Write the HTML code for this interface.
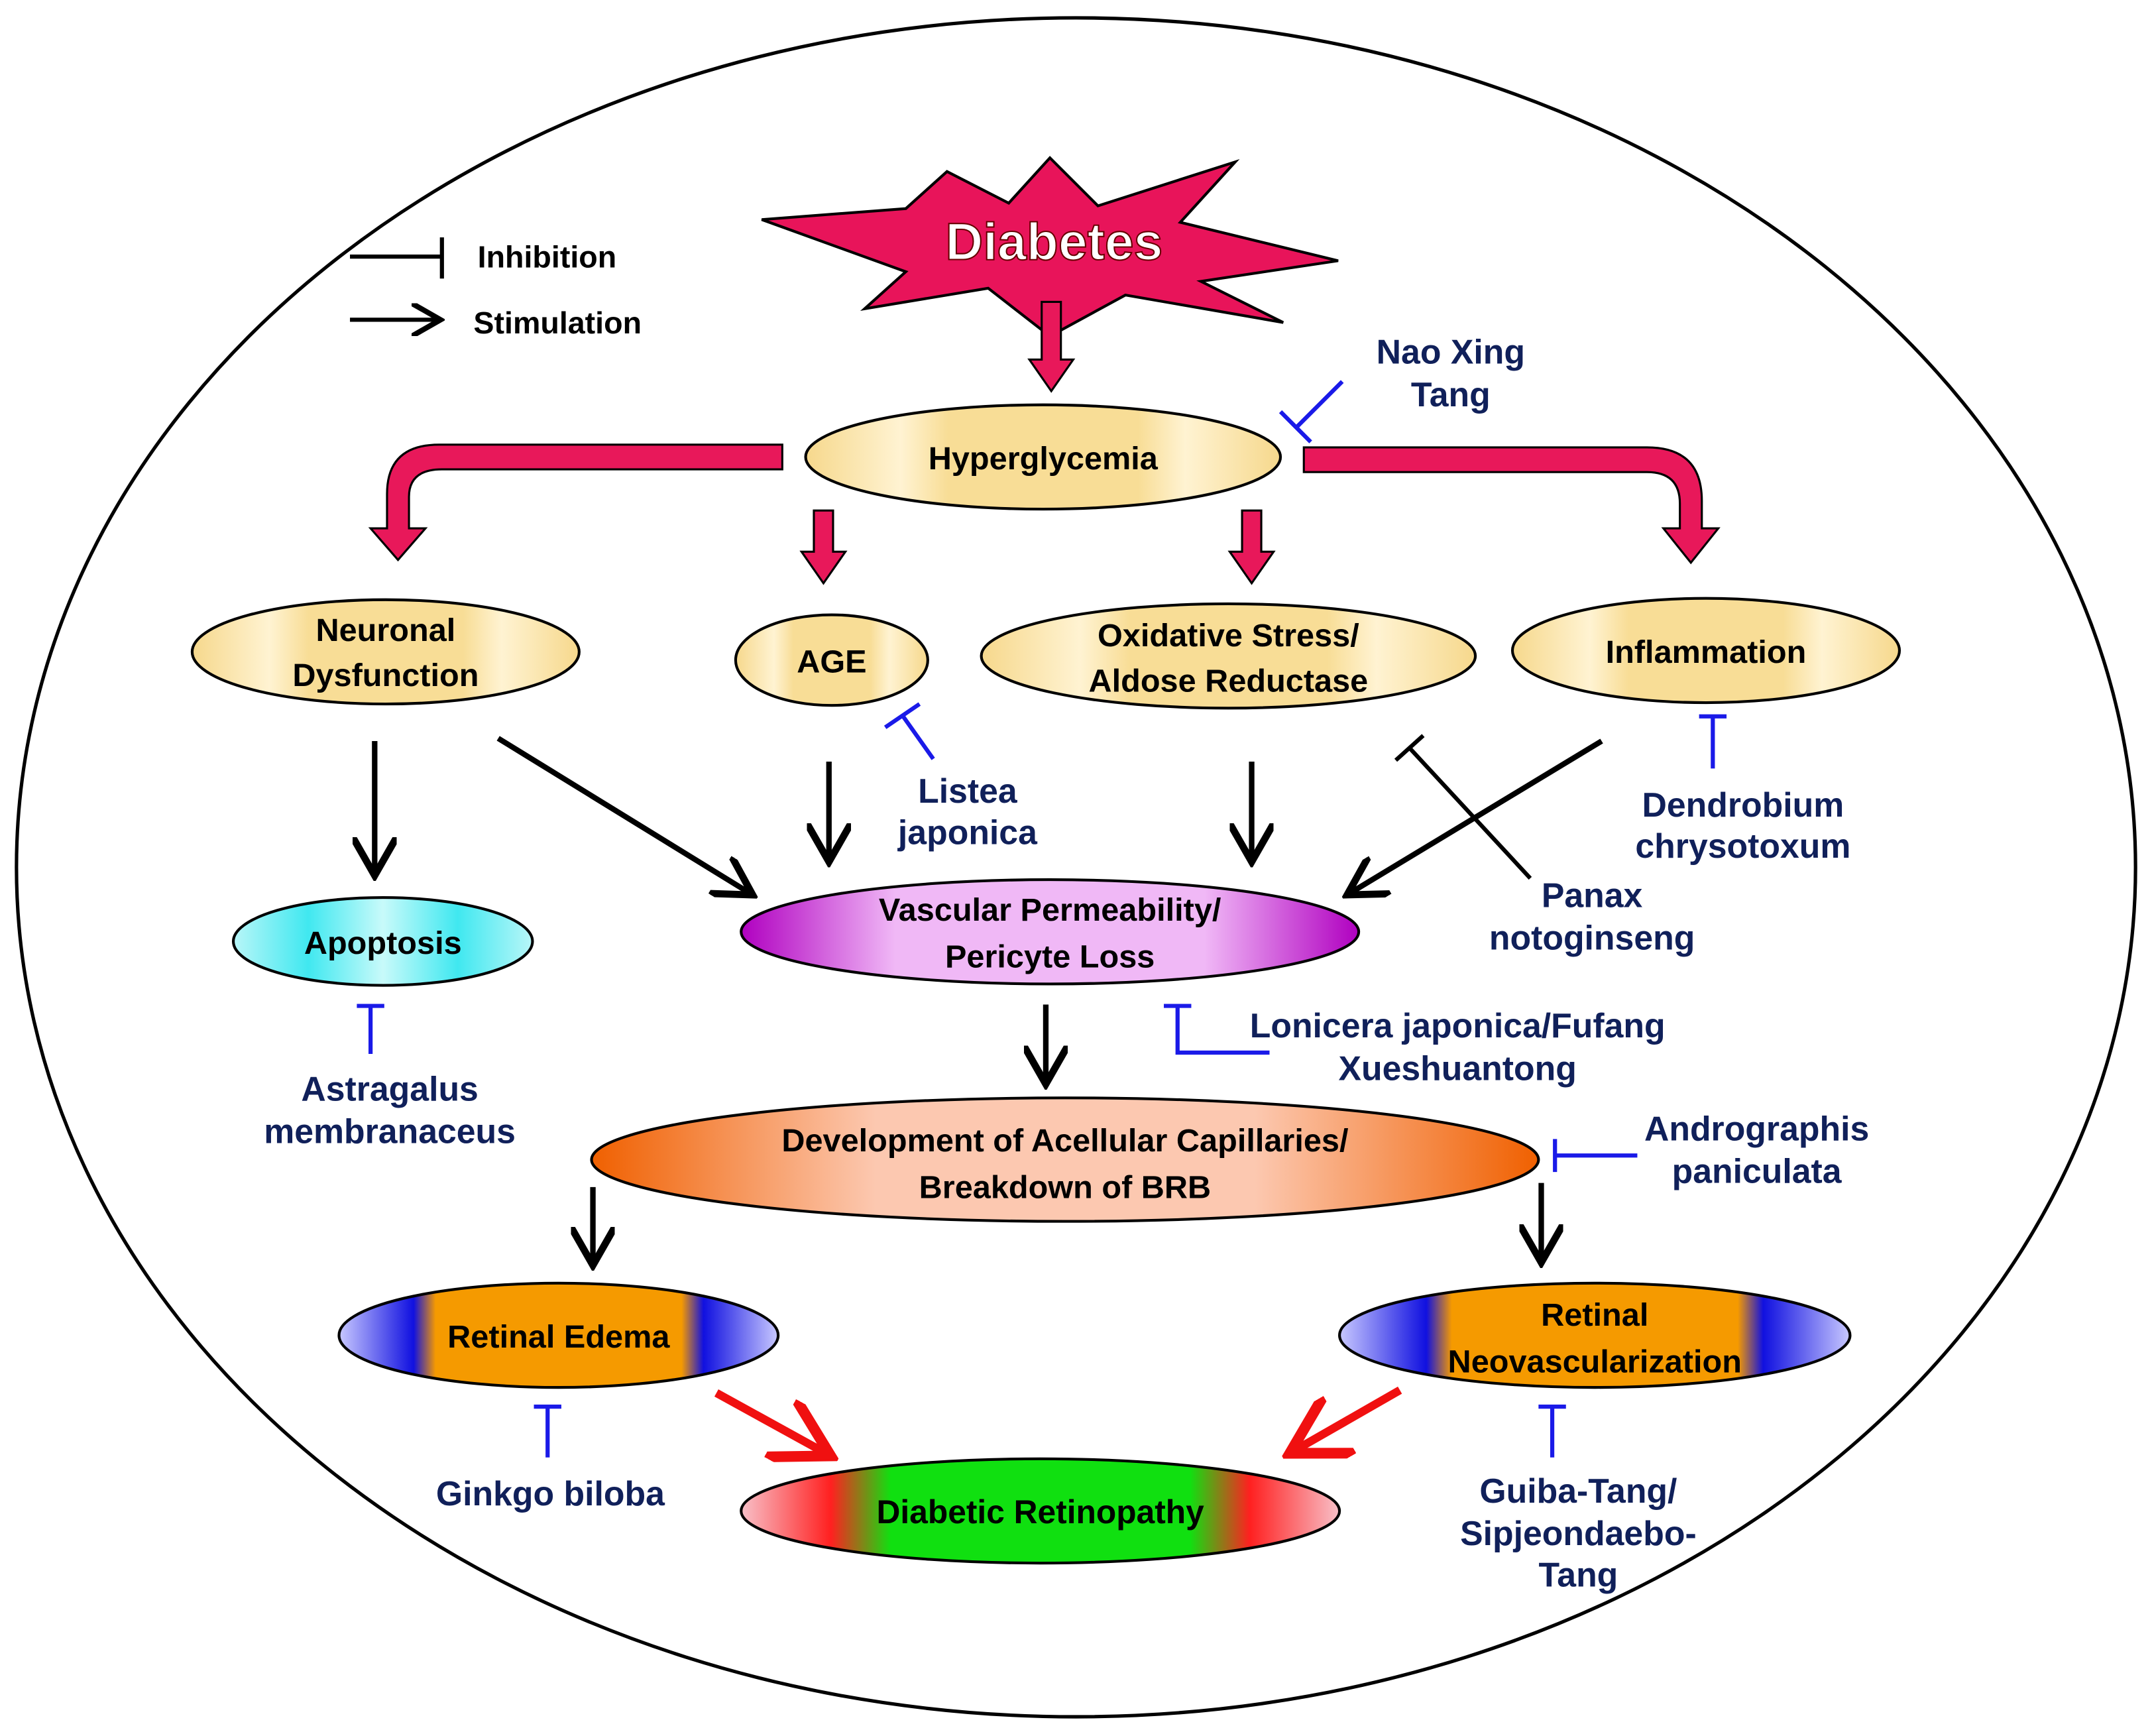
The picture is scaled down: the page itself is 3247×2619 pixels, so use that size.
<!DOCTYPE html>
<html><head><meta charset="utf-8"><style>
html,body{margin:0;padding:0;background:#fff;}
svg{display:block;}
text{font-family:"Liberation Sans",sans-serif;font-weight:bold;}
</style></head><body>
<svg width="3247" height="2619" viewBox="0 0 1568 1265" preserveAspectRatio="none" xmlns="http://www.w3.org/2000/svg">
<defs>
<linearGradient id="yel" x1="0" x2="1" y1="0" y2="0">
<stop offset="0" stop-color="#f6d88c"/><stop offset="0.2" stop-color="#fff3d2"/><stop offset="0.3" stop-color="#f8dd96"/><stop offset="0.7" stop-color="#f8dd96"/><stop offset="0.8" stop-color="#fff3d2"/><stop offset="1" stop-color="#f6d88c"/></linearGradient>
<linearGradient id="cyan" x1="0" x2="1"><stop offset="0" stop-color="#b8f6f8"/><stop offset="0.25" stop-color="#40e8f0"/><stop offset="0.5" stop-color="#c8fafa"/><stop offset="0.75" stop-color="#40e8f0"/><stop offset="1" stop-color="#b8f6f8"/></linearGradient>
<linearGradient id="mag" x1="0" x2="1"><stop offset="0" stop-color="#b000c0"/><stop offset="0.25" stop-color="#f0b8f6"/><stop offset="0.75" stop-color="#f0b8f6"/><stop offset="1" stop-color="#b000c0"/></linearGradient>
<linearGradient id="org" x1="0" x2="1"><stop offset="0" stop-color="#f06000"/><stop offset="0.3" stop-color="#fcc8b0"/><stop offset="0.7" stop-color="#fcc8b0"/><stop offset="1" stop-color="#f06000"/></linearGradient>
<linearGradient id="edema" x1="0" x2="1"><stop offset="0" stop-color="#c8c8ff"/><stop offset="0.17" stop-color="#1010e0"/><stop offset="0.22" stop-color="#f59a00"/><stop offset="0.78" stop-color="#f59a00"/><stop offset="0.83" stop-color="#1010e0"/><stop offset="1" stop-color="#c8c8ff"/></linearGradient>
<linearGradient id="ret" x1="0" x2="1"><stop offset="0" stop-color="#f8c0c8"/><stop offset="0.15" stop-color="#ff2020"/><stop offset="0.25" stop-color="#10e010"/><stop offset="0.75" stop-color="#10e010"/><stop offset="0.85" stop-color="#ff2020"/><stop offset="1" stop-color="#f8c0c8"/></linearGradient>
<marker id="ab" markerWidth="8" markerHeight="8" refX="6" refY="4" orient="auto" markerUnits="strokeWidth"><path d="M0,0 L7,4 L0,8" fill="none" stroke="#000" stroke-width="1.3"/></marker>
<marker id="ar" markerWidth="8" markerHeight="8" refX="6" refY="4" orient="auto" markerUnits="strokeWidth"><path d="M0,0 L7,4 L0,8" fill="none" stroke="#f01010" stroke-width="1.3"/></marker>
</defs>
<ellipse cx="784" cy="632" rx="772" ry="619" fill="#fff" stroke="#000" stroke-width="2.5"/>

<line x1="255" y1="187" x2="322" y2="187" stroke="#000" stroke-width="3"/>
<line x1="322" y1="173" x2="322" y2="203" stroke="#000" stroke-width="3"/>
<text x="348" y="195" font-size="22.5" fill="#000">Inhibition</text>
<line x1="255" y1="233" x2="318" y2="233" stroke="#000" stroke-width="3" marker-end="url(#ab)"/>
<text x="345" y="243" font-size="22.5" fill="#000">Stimulation</text>

<polygon points="555,160 660,152 690,125 735,148 765,115 800,150 900,118 860,162 975,190 875,205 935,235 820,215 765,245 720,210 630,225 660,198" fill="#e8145a" stroke="#000" stroke-width="2"/>
<text x="768" y="189" font-size="38" fill="#fff" stroke="#600" stroke-width="1" text-anchor="middle">Diabetes</text>

<g fill="#e8185a" stroke="#000" stroke-width="1.5">
<polygon points="759,220 773,220 773,262 782,262 766,285 750,262 759,262"/>
<polygon points="593,372 607,372 607,402 616,402 600,425 584,402 593,402"/>
<polygon points="905,372 919,372 919,402 928,402 912,425 896,402 905,402"/>
<path d="M570,324 L320,324 Q282,324 282,360 L282,385 L270,385 L290,408 L310,385 L298,385 L298,362 Q298,342 322,342 L570,342 Z"/>
<path d="M950,326 L1200,326 Q1240,326 1240,365 L1240,385 L1252,385 L1232,410 L1212,385 L1224,385 L1224,367 Q1224,344 1200,344 L950,344 Z"/>
</g>

<g stroke="#000" stroke-width="2">
<ellipse cx="760" cy="333" rx="173" ry="38" fill="url(#yel)"/>
<ellipse cx="281" cy="475" rx="141" ry="38" fill="url(#yel)"/>
<ellipse cx="606" cy="481" rx="70" ry="33" fill="url(#yel)"/>
<ellipse cx="895" cy="478" rx="180" ry="38" fill="url(#yel)"/>
<ellipse cx="1243" cy="474" rx="141" ry="38" fill="url(#yel)"/>
<ellipse cx="279" cy="686" rx="109" ry="32" fill="url(#cyan)"/>
<ellipse cx="765" cy="679" rx="225" ry="38" fill="url(#mag)"/>
<ellipse cx="776" cy="845" rx="345" ry="45" fill="url(#org)"/>
<ellipse cx="407" cy="973" rx="160" ry="38" fill="url(#edema)"/>
<ellipse cx="1162" cy="973" rx="186" ry="38" fill="url(#edema)"/>
<ellipse cx="758" cy="1101" rx="218" ry="38" fill="url(#ret)"/>
</g>

<g font-size="23.5" fill="#000" text-anchor="middle">
<text x="760" y="342">Hyperglycemia</text>
<text x="281" y="467">Neuronal</text><text x="281" y="500">Dysfunction</text>
<text x="606" y="490">AGE</text>
<text x="895" y="471">Oxidative Stress/</text><text x="895" y="504">Aldose Reductase</text>
<text x="1243" y="483">Inflammation</text>
<text x="279" y="695">Apoptosis</text>
<text x="765" y="671">Vascular Permeability/</text><text x="765" y="705">Pericyte Loss</text>
<text x="776" y="839">Development of Acellular Capillaries/</text><text x="776" y="873">Breakdown of BRB</text>
<text x="407" y="982">Retinal Edema</text>
<text x="1162" y="966">Retinal</text><text x="1162" y="1000">Neovascularization</text>
<text x="758" y="1110" font-size="24">Diabetic Retinopathy</text>
</g>

<g stroke="#000" stroke-width="4" marker-end="url(#ab)">
<line x1="273" y1="540" x2="273" y2="634"/>
<line x1="363" y1="538" x2="545" y2="650"/>
<line x1="604" y1="555" x2="604" y2="624"/>
<line x1="912" y1="555" x2="912" y2="624"/>
<line x1="1167" y1="540" x2="985" y2="650"/>
<line x1="762" y1="732" x2="762" y2="786"/>
<line x1="432" y1="865" x2="432" y2="918"/>
<line x1="1123" y1="862" x2="1123" y2="916"/>
</g>
<g stroke="#f01010" stroke-width="6" marker-end="url(#ar)">
<line x1="522" y1="1015" x2="600" y2="1058"/>
<line x1="1020" y1="1013" x2="945" y2="1056"/>
</g>

<line x1="1115" y1="640" x2="1027" y2="545" stroke="#000" stroke-width="3"/>
<line x1="1017" y1="554" x2="1037" y2="536" stroke="#000" stroke-width="3"/>

<g stroke="#1a1ae8" stroke-width="3" fill="none">
<line x1="978" y1="278" x2="945" y2="311"/><line x1="933" y1="300" x2="955" y2="322"/>
<line x1="680" y1="553" x2="658" y2="522"/><line x1="645" y1="530" x2="670" y2="513"/>
<line x1="1248" y1="560" x2="1248" y2="522"/><line x1="1238" y1="522" x2="1258" y2="522"/>
<polyline points="925,767 858,767 858,733"/><line x1="848" y1="733" x2="868" y2="733"/>
<line x1="1193" y1="842" x2="1133" y2="842"/><line x1="1133" y1="830" x2="1133" y2="854"/>
<line x1="270" y1="768" x2="270" y2="733"/><line x1="260" y1="733" x2="280" y2="733"/>
<line x1="399" y1="1062" x2="399" y2="1025"/><line x1="389" y1="1025" x2="409" y2="1025"/>
<line x1="1131" y1="1062" x2="1131" y2="1025"/><line x1="1121" y1="1025" x2="1141" y2="1025"/>
</g>

<g font-size="25" fill="#10205a" text-anchor="middle">
<text x="1057" y="265">Nao Xing</text><text x="1057" y="296">Tang</text>
<text x="705" y="585">Listea</text><text x="705" y="615">japonica</text>
<text x="1270" y="595">Dendrobium</text><text x="1270" y="625">chrysotoxum</text>
<text x="1160" y="661">Panax</text><text x="1160" y="692">notoginseng</text>
<text x="1062" y="756">Lonicera japonica/Fufang</text><text x="1062" y="787">Xueshuantong</text>
<text x="1280" y="831">Andrographis</text><text x="1280" y="862">paniculata</text>
<text x="284" y="802">Astragalus</text><text x="284" y="833">membranaceus</text>
<text x="401" y="1097">Ginkgo biloba</text>
<text x="1150" y="1095">Guiba-Tang/</text><text x="1150" y="1126">Sipjeondaebo-</text><text x="1150" y="1156">Tang</text>
</g>
</svg>
</body></html>
